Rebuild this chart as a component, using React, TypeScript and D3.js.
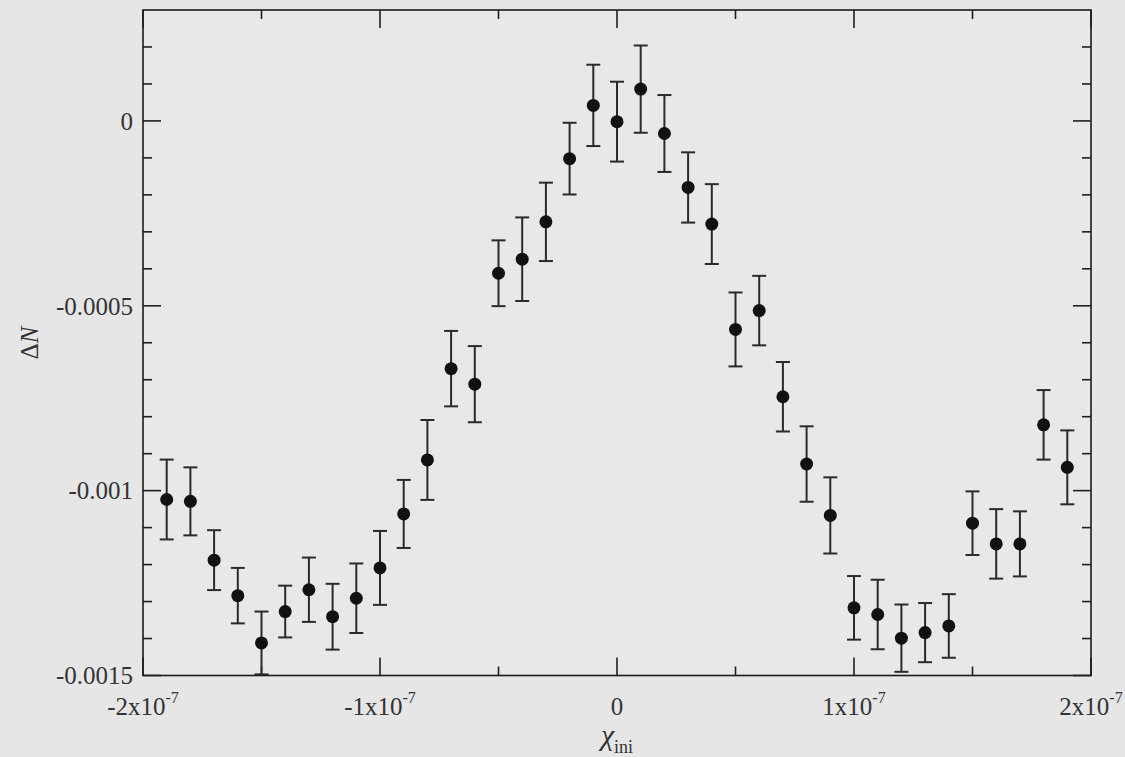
import React from 'react';
import * as d3 from 'd3';

// x positions in units of 1e-7
const xUnits = [
  -1.9, -1.8, -1.7, -1.6, -1.5, -1.4, -1.3, -1.2, -1.1, -1.0,
  -0.9, -0.8, -0.7, -0.6, -0.5, -0.4, -0.3, -0.2, -0.1, 0,
  0.1, 0.2, 0.3, 0.4, 0.5, 0.6, 0.7, 0.8, 0.9, 1.0,
  1.1, 1.2, 1.3, 1.4, 1.5, 1.6, 1.7, 1.8, 1.9,
];
// ΔN in units of 1e-3
const deltaN = [
  -1.024, -1.029, -1.188, -1.284, -1.412, -1.327, -1.268, -1.341, -1.291, -1.209,
  -1.063, -0.917, -0.670, -0.712, -0.412, -0.374, -0.273, -0.102, 0.042, -0.002,
  0.086, -0.034, -0.180, -0.279, -0.564, -0.513, -0.746, -0.928, -1.067, -1.317,
  -1.335, -1.399, -1.384, -1.366, -1.088, -1.144, -1.144, -0.822, -0.937,
];
// error half-widths in units of 1e-4
const errors = [
  1.08, 0.92, 0.81, 0.75, 0.85, 0.70, 0.87, 0.89, 0.94, 1.00,
  0.92, 1.08, 1.02, 1.03, 0.89, 1.13, 1.06, 0.97, 1.10, 1.08,
  1.18, 1.04, 0.95, 1.08, 1.00, 0.94, 0.94, 1.02, 1.03, 0.86,
  0.94, 0.91, 0.80, 0.86, 0.86, 0.94, 0.88, 0.94, 1.00,
];

const xMajor = [-2e-7, -1e-7, 0, 1e-7, 2e-7];
const xMajorMant = ['-2', '-1', '0', '1', '2'];
const xMinor = [-1.5e-7, -0.5e-7, 0.5e-7, 1.5e-7];
const yMajor = [-0.0015, -0.001, -0.0005, 0];
const yMajorLabels = ['-0.0015', '-0.001', '-0.0005', '0'];
const yMinor = [-0.0014, -0.0013, -0.0012, -0.0011, -0.0009, -0.0008, -0.0007, -0.0006,
  -0.0004, -0.0003, -0.0002, -0.0001, 0.0001, 0.0002];

const W = 1125;
const H = 757;
const m = { left: 143, right: 34, top: 10, bottom: 81.5 };

export default function App() {
  const x = d3.scaleLinear().domain([-2e-7, 2e-7]).range([m.left, W - m.right]);
  const y = d3.scaleLinear().domain([-0.0015, 0.0003]).range([H - m.bottom, m.top]);
  const x0 = m.left, x1 = W - m.right, y0 = H - m.bottom, y1 = m.top;
  const font = '"Liberation Serif", "DejaVu Serif", serif';
  const majLen = 18, minLen = 9;
  const tickCol = '#1e1e1e';

  const pts = xUnits.map((u, i) => ({ x: u * 1e-7, y: deltaN[i] * 1e-3, e: errors[i] * 1e-4 }));

  return (
    <div style={{ position: 'fixed', left: 0, top: 0 }}>
      <svg width={W} height={H} style={{ display: 'block', background: '#e6e6e6' }}>
        {/* frame */}
        <rect x={x0} y={y1} width={x1 - x0} height={y0 - y1} fill="#e8e8e8" stroke="#1a1a1a" strokeWidth={1.6} />

        {/* y ticks, left and right */}
        {yMajor.map(v => (
          <g key={'ym' + v} stroke={tickCol} strokeWidth={1.6}>
            <line x1={x0} x2={x0 + majLen} y1={y(v)} y2={y(v)} />
            <line x1={x1} x2={x1 - majLen} y1={y(v)} y2={y(v)} />
          </g>
        ))}
        {yMinor.map(v => (
          <g key={'yn' + v} stroke={tickCol} strokeWidth={1.6}>
            <line x1={x0} x2={x0 + minLen} y1={y(v)} y2={y(v)} />
            <line x1={x1} x2={x1 - minLen} y1={y(v)} y2={y(v)} />
          </g>
        ))}
        {/* x ticks, bottom and top */}
        {xMajor.map(v => (
          <g key={'xm' + v} stroke={tickCol} strokeWidth={1.6}>
            <line x1={x(v)} x2={x(v)} y1={y0} y2={y0 - majLen} />
            <line x1={x(v)} x2={x(v)} y1={y1} y2={y1 + majLen} />
          </g>
        ))}
        {xMinor.map(v => (
          <g key={'xn' + v} stroke={tickCol} strokeWidth={1.6}>
            <line x1={x(v)} x2={x(v)} y1={y0} y2={y0 - minLen} />
            <line x1={x(v)} x2={x(v)} y1={y1} y2={y1 + minLen} />
          </g>
        ))}

        {/* y tick labels */}
        {yMajor.map((v, i) => (
          <text key={'yl' + v} x={x0 - 10} y={y(v)} dy="0.35em" textAnchor="end"
            fontFamily={font} fontSize={25} fill="#333">{yMajorLabels[i]}</text>
        ))}
        {/* x tick labels */}
        {xMajor.map((v, i) => (
          v === 0 ? (
            <text key={'xl' + v} x={x(v)} y={715} textAnchor="middle"
              fontFamily={font} fontSize={25} fill="#333">0</text>
          ) : (
            <text key={'xl' + v} x={x(v)} y={715} textAnchor="middle"
              fontFamily={font} fontSize={25} fill="#333">
              {xMajorMant[i]}x10<tspan dy={-12} fontSize={16}>-7</tspan>
            </text>
          )
        ))}

        {/* error bars */}
        {pts.map((p, i) => {
          const cx = x(p.x);
          const top = y(p.y + p.e);
          const bot = Math.min(y(p.y - p.e), y0);
          return (
            <g key={'e' + i} stroke="#2a2a2a" strokeWidth={2}>
              <line x1={cx} x2={cx} y1={top} y2={bot} />
              <line x1={cx - 7} x2={cx + 7} y1={top} y2={top} />
              <line x1={cx - 7} x2={cx + 7} y1={bot} y2={bot} />
            </g>
          );
        })}
        {/* points */}
        {pts.map((p, i) => (
          <circle key={'p' + i} cx={x(p.x)} cy={y(p.y)} r={6.5} fill="#111" />
        ))}

        {/* axis titles */}
        <text transform="translate(38,343) rotate(-90)" textAnchor="middle"
          fontFamily={font} fontSize={25} fill="#333">
          Δ<tspan fontStyle="italic">N</tspan>
        </text>
        <text x={617} y={745} textAnchor="middle" fontFamily={font} fontSize={30} fill="#333">
          <tspan fontStyle="italic">χ</tspan>
          <tspan fontSize={18} dy={8}>ini</tspan>
        </text>
      </svg>
    </div>
  );
}
